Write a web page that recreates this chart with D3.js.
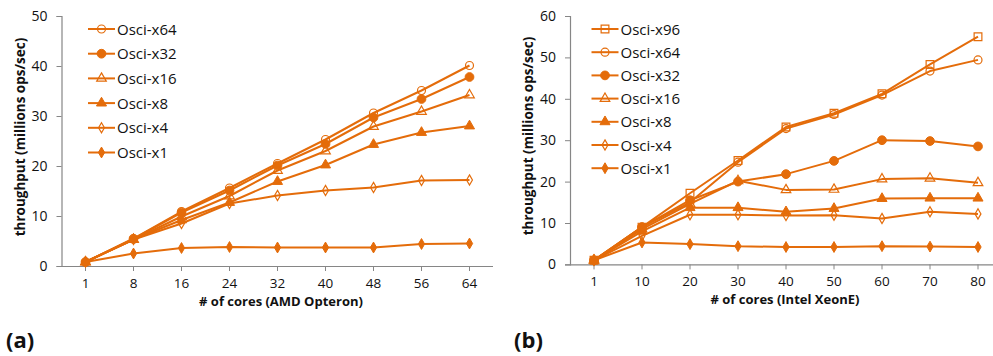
<!DOCTYPE html>
<html><head><meta charset="utf-8">
<script src="https://cdn.jsdelivr.net/npm/d3@7"></script>
<style>
html,body{margin:0;padding:0;background:#fff;}
svg{display:block;font-family:"Open Sans",Lato,sans-serif;}
</style></head>
<body>
<svg id="c" width="993" height="356"></svg>
<script>
// ---- data: panel (a) AMD Opteron ----
const coresA = ["1","8","16","24","32","40","48","56","64"];
const namesA = ["Osci-x64","Osci-x32","Osci-x16","Osci-x8","Osci-x4","Osci-x1"];
const a_x64 = [0.8,5.5,10.9,15.6,20.5,25.3,30.6,35.1,40.1];
const a_x32 = [0.8,5.4,10.7,15.1,20.1,24.4,29.7,33.4,37.8];
const a_x16 = [0.8,5.3,9.9,14.0,19.1,23.0,27.9,30.9,34.2];
const a_x8  = [0.8,5.3,9.2,12.7,16.9,20.2,24.3,26.7,28.0];
const a_x4  = [0.8,5.3,8.5,12.5,14.1,15.1,15.7,17.1,17.2];
const a_x1  = [0.8,2.5,3.6,3.8,3.7,3.7,3.7,4.4,4.5];
const yTicksA = [0,10,20,30,40,50];

// ---- data: panel (b) Intel XeonE ----
const coresB = ["1","10","20","30","40","50","60","70","80"];
const namesB = ["Osci-x96","Osci-x64","Osci-x32","Osci-x16","Osci-x8","Osci-x4","Osci-x1"];
const b_x96 = [1.0,9.0,17.2,25.1,33.2,36.5,41.2,48.3,55.0];
const b_x64 = [1.0,9.0,15.0,24.7,32.8,36.2,40.9,46.7,49.4];
const b_x32 = [1.0,9.0,15.5,20.0,21.8,25.0,30.0,29.8,28.5];
const b_x16 = [1.0,8.5,14.6,20.2,18.0,18.1,20.6,20.8,19.7];
const b_x8  = [1.0,8.0,13.7,13.7,12.7,13.5,15.9,16.0,16.0];
const b_x4  = [1.0,6.9,12.0,12.0,11.8,11.9,11.1,12.7,12.2];
const b_x1  = [1.0,5.3,4.9,4.4,4.2,4.2,4.4,4.3,4.2];
const yTicksB = [0,10,20,30,40,50,60];

const markerOf = {
  "Osci-x96":"sq-open","Osci-x64":"circ-open","Osci-x32":"circ-fill",
  "Osci-x16":"tri-open","Osci-x8":"tri-fill","Osci-x4":"dia-open","Osci-x1":"dia-fill"
};
const COLOR = "#E46C0A";
const svg = d3.select("#c");

function drawMarker(g, type, x, y){
  const open = type.endsWith("open");
  const fill = open ? "none" : COLOR;
  const sw = open ? 1.2 : 1;
  let sym, size;
  if (type.startsWith("sq")) { sym = d3.symbolSquare; size = 60; }
  else if (type.startsWith("circ")) { sym = d3.symbolCircle; size = open ? 50 : 60; }
  else if (type.startsWith("tri")) { sym = d3.symbolTriangle; size = open ? 40 : 44; }
  else { sym = d3.symbolDiamond; size = open ? 30 : 34; }
  g.append("path").attr("d", d3.symbol().type(sym).size(size)())
    .attr("transform", `translate(${x},${y})`)
    .attr("fill", fill).attr("stroke", COLOR).attr("stroke-width", sw);
}

function panel(opt){
  const {cats, names, series, yMax, yTicks, left, right, top, bottom, xTitle, xTitleX, yTitleX, yTitleY, legX, legY, legStep, tag, tagX} = opt;
  const x = d3.scaleBand().domain(cats).range([left, left + 48*cats.length]);
  const y = d3.scaleLinear().domain([0, yMax]).range([bottom, top]);
  const g = svg.append("g");

  // y axis
  const ya = g.append("g").attr("transform", `translate(${left},0)`)
    .call(d3.axisLeft(y).tickValues(yTicks).tickSize(5).tickPadding(9).tickFormat(d3.format("d")));
  ya.select(".domain").attr("stroke", "#868686").attr("stroke-width",1.2);
  ya.selectAll(".tick line").attr("stroke", "#868686");
  ya.selectAll("text").attr("font-size", 14).attr("fill", "#111").attr("font-family","Open Sans");

  // x axis
  const xa = g.append("g").attr("transform", `translate(0,${bottom})`)
    .call(d3.axisBottom(x).tickSize(5).tickPadding(7).tickSizeOuter(0));
  xa.select(".domain").attr("stroke", "#868686").attr("stroke-width",1.2).attr("d", `M${left},0.5H${right}`);
  xa.selectAll(".tick line").attr("stroke", "#868686");
  xa.selectAll("text").attr("font-size", 13.5).attr("fill", "#111").attr("font-family","Open Sans");

  // titles
  g.append("text").attr("x", xTitleX).attr("y", bottom + 39.5).attr("text-anchor","middle")
    .attr("font-size", 13).attr("font-weight","bold").attr("fill","#111").text(xTitle);
  g.append("text").attr("transform", `translate(${yTitleX},${yTitleY}) rotate(-90)`)
    .attr("text-anchor","middle").attr("font-size", 13.5).attr("font-weight","bold").attr("fill","#111")
    .text("throughput (millions ops/sec)");

  // lines + markers (draw last-listed series first so top series are on top)
  const line = d3.line().x((d,i)=>x(cats[i]) + x.bandwidth()/2).y(d=>y(d));
  names.slice().reverse().forEach(nm => {
    const vals = series[nm];
    g.append("path").attr("d", line(vals)).attr("fill","none")
      .attr("stroke", COLOR).attr("stroke-width", 2).attr("stroke-linejoin","round");
    vals.forEach((v,i)=> drawMarker(g, markerOf[nm], x(cats[i]) + x.bandwidth()/2, y(v)));
  });

  // legend
  names.forEach((nm,i)=>{
    const yy = legY + i*legStep;
    g.append("line").attr("x1", legX).attr("x2", legX+27).attr("y1", yy).attr("y2", yy)
      .attr("stroke", COLOR).attr("stroke-width", 2);
    drawMarker(g, markerOf[nm], legX+13.5, yy);
    g.append("text").attr("x", legX+29).attr("y", yy+5.5).attr("font-size", 15)
      .attr("fill","#111").text(nm);
  });

  // panel tag
  g.append("text").attr("x", tagX).attr("y", 348).attr("font-size", 22).attr("font-weight","bold")
    .attr("fill","#111").text(tag);
}

panel({cats: coresA, names: namesA,
  series: {"Osci-x64":a_x64,"Osci-x32":a_x32,"Osci-x16":a_x16,"Osci-x8":a_x8,"Osci-x4":a_x4,"Osci-x1":a_x1},
  yMax: 50, yTicks: yTicksA, left: 61.5, right: 493, top: 16, bottom: 266,
  xTitle: "# of cores (AMD Opteron)", xTitleX: 281, yTitleX: 25, yTitleY: 137,
  legX: 88, legY: 29, legStep: 24.7, tag: "(a)", tagX: 6});

panel({cats: coresB, names: namesB,
  series: {"Osci-x96":b_x96,"Osci-x64":b_x64,"Osci-x32":b_x32,"Osci-x16":b_x16,"Osci-x8":b_x8,"Osci-x4":b_x4,"Osci-x1":b_x1},
  yMax: 60, yTicks: yTicksB, left: 570, right: 993, top: 16, bottom: 264.4,
  xTitle: "# of cores (Intel XeonE)", xTitleX: 785, yTitleX: 533, yTitleY: 136,
  legX: 591.5, legY: 29, legStep: 23.2, tag: "(b)", tagX: 514});
</script>
</body></html>
